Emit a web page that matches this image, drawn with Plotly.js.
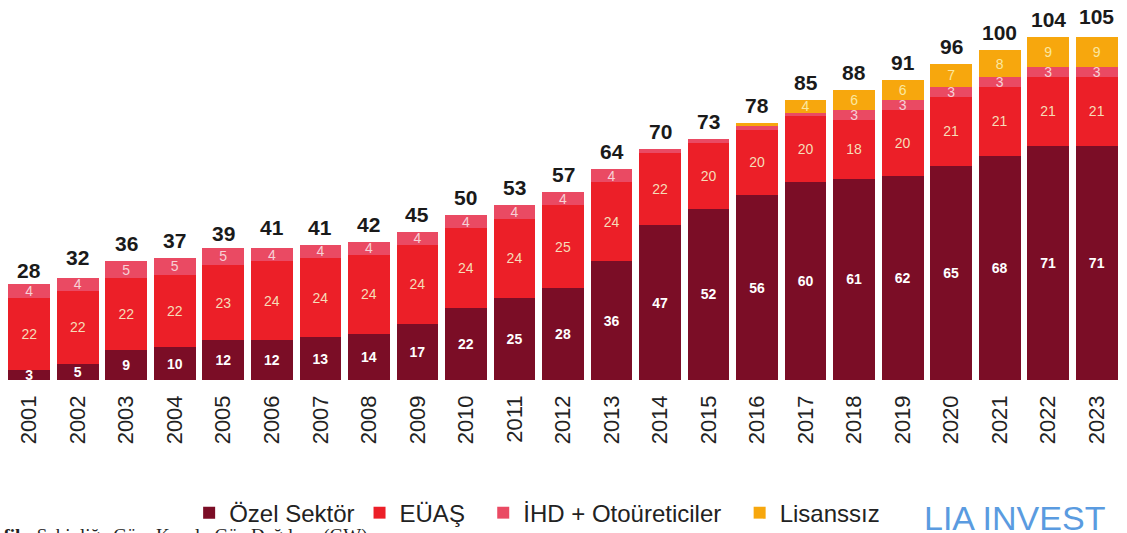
<!DOCTYPE html>
<html>
<head>
<meta charset="utf-8">
<script src="https://cdn.plot.ly/plotly-3.0.1.min.js"></script>
<style>html,body{margin:0;padding:0;background:#fff;overflow:hidden}#chart{width:1127px;height:533px}</style>
</head>
<body>
<div id="chart"></div>
<script>
const years = ["2001","2002","2003","2004","2005","2006","2007","2008","2009","2010","2011","2012","2013","2014","2015","2016","2017","2018","2019","2020","2021","2022","2023"];
const ozel = [3,5,9,10,12,12,13,14,17,22,25,28,36,47,52,56,60,61,62,65,68,71,71];
const euas = [22,22,22,22,23,24,24,24,24,24,24,25,24,22,20,20,20,18,20,21,21,21,21];
const ihd = [4,4,5,5,5,4,4,4,4,4,4,4,4,1,1,1,1,3,3,3,3,3,3];
const lisanssiz = [0,0,0,0,0,0,0,0,0,0,0,0,0,0,0,1,4,6,6,7,8,9,9];
const totals = [28,32,36,37,39,41,41,42,45,50,53,57,64,70,73,78,85,88,91,96,100,104,105];
const seriesNames = ['Özel Sektör', 'EÜAŞ', 'İHD + Otoüreticiler', 'Lisanssız'];

const lbl = arr => arr.map(v => v >= 2 ? String(v) : '');
const FONT = 'Liberation Sans, Arial, sans-serif';

function bar(name, y, color, txtColor, bold) {
  return {
    type: 'bar', name: name, x: years, y: y,
    marker: {color: color, line: {width: 0}},
    text: lbl(y), textposition: 'inside', insidetextanchor: 'middle', textangle: 0,
    constraintext: 'none',
    insidetextfont: {family: FONT, size: 14, color: txtColor, weight: bold ? 'bold' : 'normal'},
    hoverinfo: 'x+y+name'
  };
}

const data = [
  bar(seriesNames[0], ozel, '#7b0d26', '#ffffff', true),
  bar(seriesNames[1] + '\u00a0\u00a0', euas, '#ec1f28', '#f6dcb8', false),
  bar(seriesNames[2] + '\u00a0\u00a0', ihd, '#ea4a63', '#f7d0d6', false),
  bar(seriesNames[3], lisanssiz, '#f7a70d', '#fbe7a0', false)
];

const annotations = years.map((yr, i) => ({
  x: i, y: totals[i], xref: 'x', yref: 'y', text: String(totals[i]),
  showarrow: false, yanchor: 'bottom', yshift: 4,
  font: {family: FONT, size: 21, color: '#1a1a1a', weight: 'bold'}
}));
annotations.push({
  xref: 'paper', yref: 'paper', x: -0.012, y: -0.378, xanchor: 'left', yanchor: 'top',
  text: '<b>afik:</b> Sahipliğe Göre Kurulu Güç Dağılımı (GW)', showarrow: false,
  font: {family: 'Liberation Serif, serif', size: 19, color: '#222'}
});
annotations.push({
  xref: 'paper', yref: 'paper', x: 0.822, y: -0.31, xanchor: 'left', yanchor: 'top',
  text: 'LIA INVEST', showarrow: false,
  font: {family: FONT, size: 34, color: '#5a9be0'}
});

const layout = {
  width: 1127, height: 533,
  margin: {l: 5, r: 6, t: 1, b: 153, autoexpand: false},
  paper_bgcolor: '#ffffff', plot_bgcolor: '#ffffff',
  barmode: 'stack', bargap: 0.14,
  showlegend: true,
  legend: {orientation: 'h', x: 0.165, y: -0.351, xanchor: 'left', yanchor: 'middle',
    font: {family: FONT, size: 24, color: '#222'}, itemwidth: 30, traceorder: 'normal',
    bgcolor: 'rgba(0,0,0,0)'},
  xaxis: {type: 'category', range: [-0.5, 22.5], tickangle: -90, showgrid: false, zeroline: false,
    showline: false, ticks: '', ticklabelstandoff: 10,
    tickfont: {family: FONT, size: 22, color: '#222'}},
  yaxis: {range: [0, 115], visible: false, showgrid: false, zeroline: false},
  annotations: annotations
};

Plotly.newPlot('chart', data, layout, {displayModeBar: false, staticPlot: true});
</script>
</body>
</html>
